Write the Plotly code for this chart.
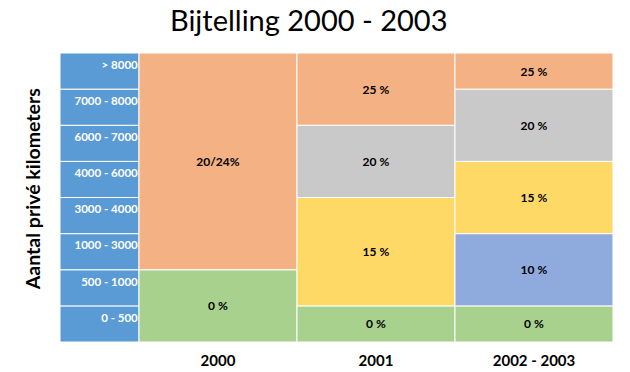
import numpy as np
import plotly.graph_objects as go

# ---- data ----
columns = ["2000", "2001", "2002 - 2003"]
row_labels = ["0 - 500", "500 - 1000", "1000 - 3000", "3000 - 4000",
              "4000 - 6000", "6000 - 7000", "7000 - 8000", "> 8000"]

spans_2000 = [2, 6]
labels_2000 = ["0 %", "20/24%"]
groups_2000 = ["green", "orange"]

spans_2001 = [1, 3, 2, 2]
labels_2001 = ["0 %", "15 %", "20 %", "25 %"]
groups_2001 = ["green", "yellow", "grey", "orange"]

spans_2002 = [1, 2, 2, 2, 1]
labels_2002 = ["0 %", "10 %", "15 %", "20 %", "25 %"]
groups_2002 = ["green", "blue", "yellow", "grey", "orange"]

colors = {"green": "#A9D18E", "blue": "#8FAADC", "yellow": "#FFD966",
          "grey": "#C9C9C9", "orange": "#F4B183"}
label_col_color = "#5B9BD5"

FONT = "Lato"

fig = go.Figure()

# label column (rows)
n = len(row_labels)
fig.add_trace(go.Bar(
    x=[-0.25] * n, y=[1] * n, base=list(range(n)), width=0.5,
    marker=dict(color=label_col_color, line=dict(color="white", width=1)),
    hoverinfo="skip", showlegend=False))
fig.add_trace(go.Scatter(
    x=[-0.008] * n, y=[i + 0.8 for i in range(n)], mode="text",
    text=["<b>%s</b>" % t for t in row_labels],
    textposition="bottom left", cliponaxis=False,
    textfont=dict(family=FONT, size=11.5, color="white"),
    hoverinfo="skip", showlegend=False))

col_data = [(spans_2000, labels_2000, groups_2000),
            (spans_2001, labels_2001, groups_2001),
            (spans_2002, labels_2002, groups_2002)]

for ci, (spans, labels, groups) in enumerate(col_data):
    spans = np.array(spans)
    base = np.concatenate([[0], np.cumsum(spans)[:-1]])
    fig.add_trace(go.Bar(
        x=[ci + 0.5] * len(spans), y=spans.tolist(), base=base.tolist(), width=1,
        marker=dict(color=[colors[g] for g in groups],
                    line=dict(color="white", width=1)),
        text=["<b>%s</b>" % t for t in labels],
        textposition="inside", insidetextanchor="middle",
        textfont=dict(family=FONT, size=12, color="black"),
        hoverinfo="skip", showlegend=False))

fig.update_layout(
    template="none",
    width=630, height=372,
    barmode="overlay",
    hovermode=False,
    margin=dict(l=60, r=17, t=53, b=30, autoexpand=False),
    plot_bgcolor="white", paper_bgcolor="white",
    font=dict(family=FONT, color="black"),
    title=dict(text="Bijtelling 2000 - 2003", x=0.49, xanchor="center",
               y=0.945, yref="container", yanchor="middle",
               font=dict(family=FONT, size=29, color="black")),
    xaxis=dict(range=[-0.5, 3], tickvals=[0.5, 1.5, 2.5], ticktext=columns,
               showgrid=False, zeroline=False, showline=False, automargin=False,
               ticks="outside", ticklen=5, tickcolor="white",
               tickfont=dict(family=FONT, size=15, color="black", weight="bold")),
    yaxis=dict(range=[0, 8], showgrid=False, zeroline=False, automargin=False,
               showticklabels=False, showline=False, ticks=""),
    annotations=[dict(text="<b>Aantal privé kilometers</b>", textangle=-90,
                      xref="paper", yref="paper", x=-0.05, y=0.53,
                      xanchor="center", yanchor="middle", showarrow=False,
                      font=dict(family=FONT, size=19.5, color="black"))],
)

fig.write_html("out.html",
               config={"displayModeBar": False, "staticPlot": True},
               post_script="document.body.style.margin='0';"
                           "document.body.style.overflow='hidden';")
